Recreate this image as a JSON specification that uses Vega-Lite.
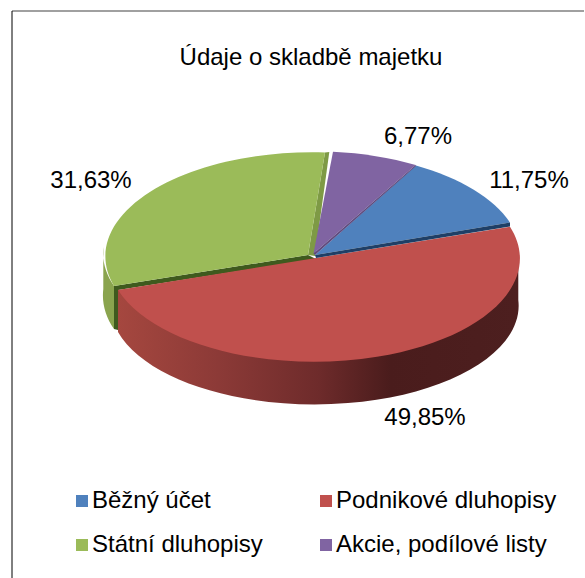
{
"$schema":"https://vega.github.io/schema/vega-lite/v6.json",
"width":584,"height":578,"padding":0,"autosize":{"type":"none"},
"background":"white",
"view":{"stroke":null},
"title":{"text":"Údaje o skladbě majetku","font":"Liberation Sans","fontSize":24,"fontWeight":"normal","color":"#000000","anchor":"middle","dx":19,"offset":-94,"baseline":"bottom"},
"datasets":{"slices":[
{"slice":"Běžný účet","share":11.75,"label":"11,75%"},
{"slice":"Podnikové dluhopisy","share":49.85,"label":"49,85%"},
{"slice":"Státní dluhopisy","share":31.63,"label":"31,63%"},
{"slice":"Akcie, podílové listy","share":6.77,"label":"6,77%"}
]},
"data":{"name":"slices"},
"layer":[
{"mark":{"type":"square","size":0,"opacity":1},
 "encoding":{
  "color":{"field":"slice","type":"nominal","scale":{"domain":["Běžný účet","Podnikové dluhopisy","Státní dluhopisy","Akcie, podílové listy"],"range":["#4F81BD","#C0504D","#9BBB59","#8064A2"]},
   "legend":{"orient":"none","direction":"horizontal","legendX":70,"legendY":489,"columns":2,"title":null,"symbolType":"square","symbolSize":144,"symbolStrokeWidth":0,"symbolOpacity":1,"labelFont":"Liberation Sans","labelFontSize":24,"labelColor":"#000000","labelOffset":-2,"labelLimit":300,"columnPadding":51,"rowPadding":20,"padding":0}}
 }},
{"transform":[{"filter":"datum.share == 6.77"}],"mark":{"type":"point","shape":"M-280,-278L293,-278","filled":false,"size":4,"opacity":1,"stroke":"#808080","strokeWidth":1.5},"encoding":{}},
{"transform":[{"filter":"datum.share == 6.77"}],"mark":{"type":"point","shape":"M-280,-278L-280,289","filled":false,"size":4,"opacity":1,"stroke":"#000000","strokeWidth":1},"encoding":{}},
{"transform":[{"filter":"datum.share == 31.63"}],"mark":{"type":"point","shape":"M-188.7,-42A207,104,0,0,0,-178,-3L-178,40A207,104,0,0,1,-188.7,0Z","filled":true,"size":4,"opacity":1,"color":"#8AA44E"},"encoding":{}},
{"transform":[{"filter":"datum.share == 49.85"}],"mark":{"type":"point","shape":"M226.3,-31L-174,1L-174,43A204,98.7,0,0,0,226.3,11Z","filled":true,"size":4,"opacity":1,"color":{"x1":0,"y1":0,"x2":1,"y2":0,"gradient":"linear","stops":[{"offset":0,"color":"#A5473F"},{"offset":0.25,"color":"#8C3A37"},{"offset":0.5,"color":"#6E2B2B"},{"offset":0.68,"color":"#4A1C1C"},{"offset":1,"color":"#4D1F1F"}]}},"encoding":{}},
{"transform":[{"filter":"datum.share == 31.63"}],"mark":{"type":"point","shape":"M-178,-3L16,-34L24,-30L-174,1L-174,41L-178,40Z","filled":true,"size":4,"opacity":1,"color":"#3F5A1E"},"encoding":{}},
{"transform":[{"filter":"datum.share == 31.63"}],"mark":{"type":"point","shape":"M33,-136.5L37.3,-137L23,-33L16,-34Z","filled":true,"size":4,"opacity":1,"color":"#7E9A45"},"encoding":{}},
{"transform":[{"filter":"datum.share == 31.63"}],"mark":{"type":"point","shape":"M16,-34L33,-136.5A207,104,0,0,0,-178,-3Z","filled":true,"size":4,"opacity":1,"color":"#9BBB59"},"encoding":{}},
{"transform":[{"filter":"datum.share == 6.77"}],"mark":{"type":"point","shape":"M21.5,-35.5L41,-137.3A204,104,0,0,1,123.7,-124Z","filled":true,"size":4,"opacity":1,"color":"#8064A2"},"encoding":{}},
{"transform":[{"filter":"datum.share == 11.75"}],"mark":{"type":"point","shape":"M23,-34L124,-123.5A204,104,0,0,1,218,-66.5Z","filled":true,"size":4,"opacity":1,"color":"#4F81BD"},"encoding":{}},
{"transform":[{"filter":"datum.share == 49.85"}],"mark":{"type":"point","shape":"M24,-31L218,-62.3A200,100.5,0,1,1,-174,1Z","filled":true,"size":4,"opacity":1,"color":"#C0504D"},"encoding":{}},
{"transform":[{"filter":"datum.share == 6.77"}],"mark":{"type":"point","shape":"M21.5,-35.5L123.7,-124L124,-123L23,-34Z","filled":true,"size":4,"opacity":1,"color":"#5F4A7E"},"encoding":{}},
{"transform":[{"filter":"datum.share == 11.75"}],"mark":{"type":"point","shape":"M23,-34L218,-66.5L218,-62.5L24,-31Z","filled":true,"size":4,"opacity":1,"color":"#1F3F66"},"encoding":{}},
{"mark":{"type":"text","font":"Liberation Sans","fontSize":24,"color":"#000000","align":"center","baseline":"middle"},
 "encoding":{
  "text":{"field":"label","type":"nominal"},
  "x":{"field":"share","type":"quantitative","axis":null,"scale":{"type":"linear","zero":false,"nice":false,"domain":[6.77,11.75,31.63,49.85],"range":[418,529,91,425]}},
  "y":{"field":"share","type":"quantitative","axis":null,"scale":{"type":"linear","zero":false,"nice":false,"domain":[6.77,11.75,31.63,49.85],"range":[137,181,181,418]}}
 }}
]
}
